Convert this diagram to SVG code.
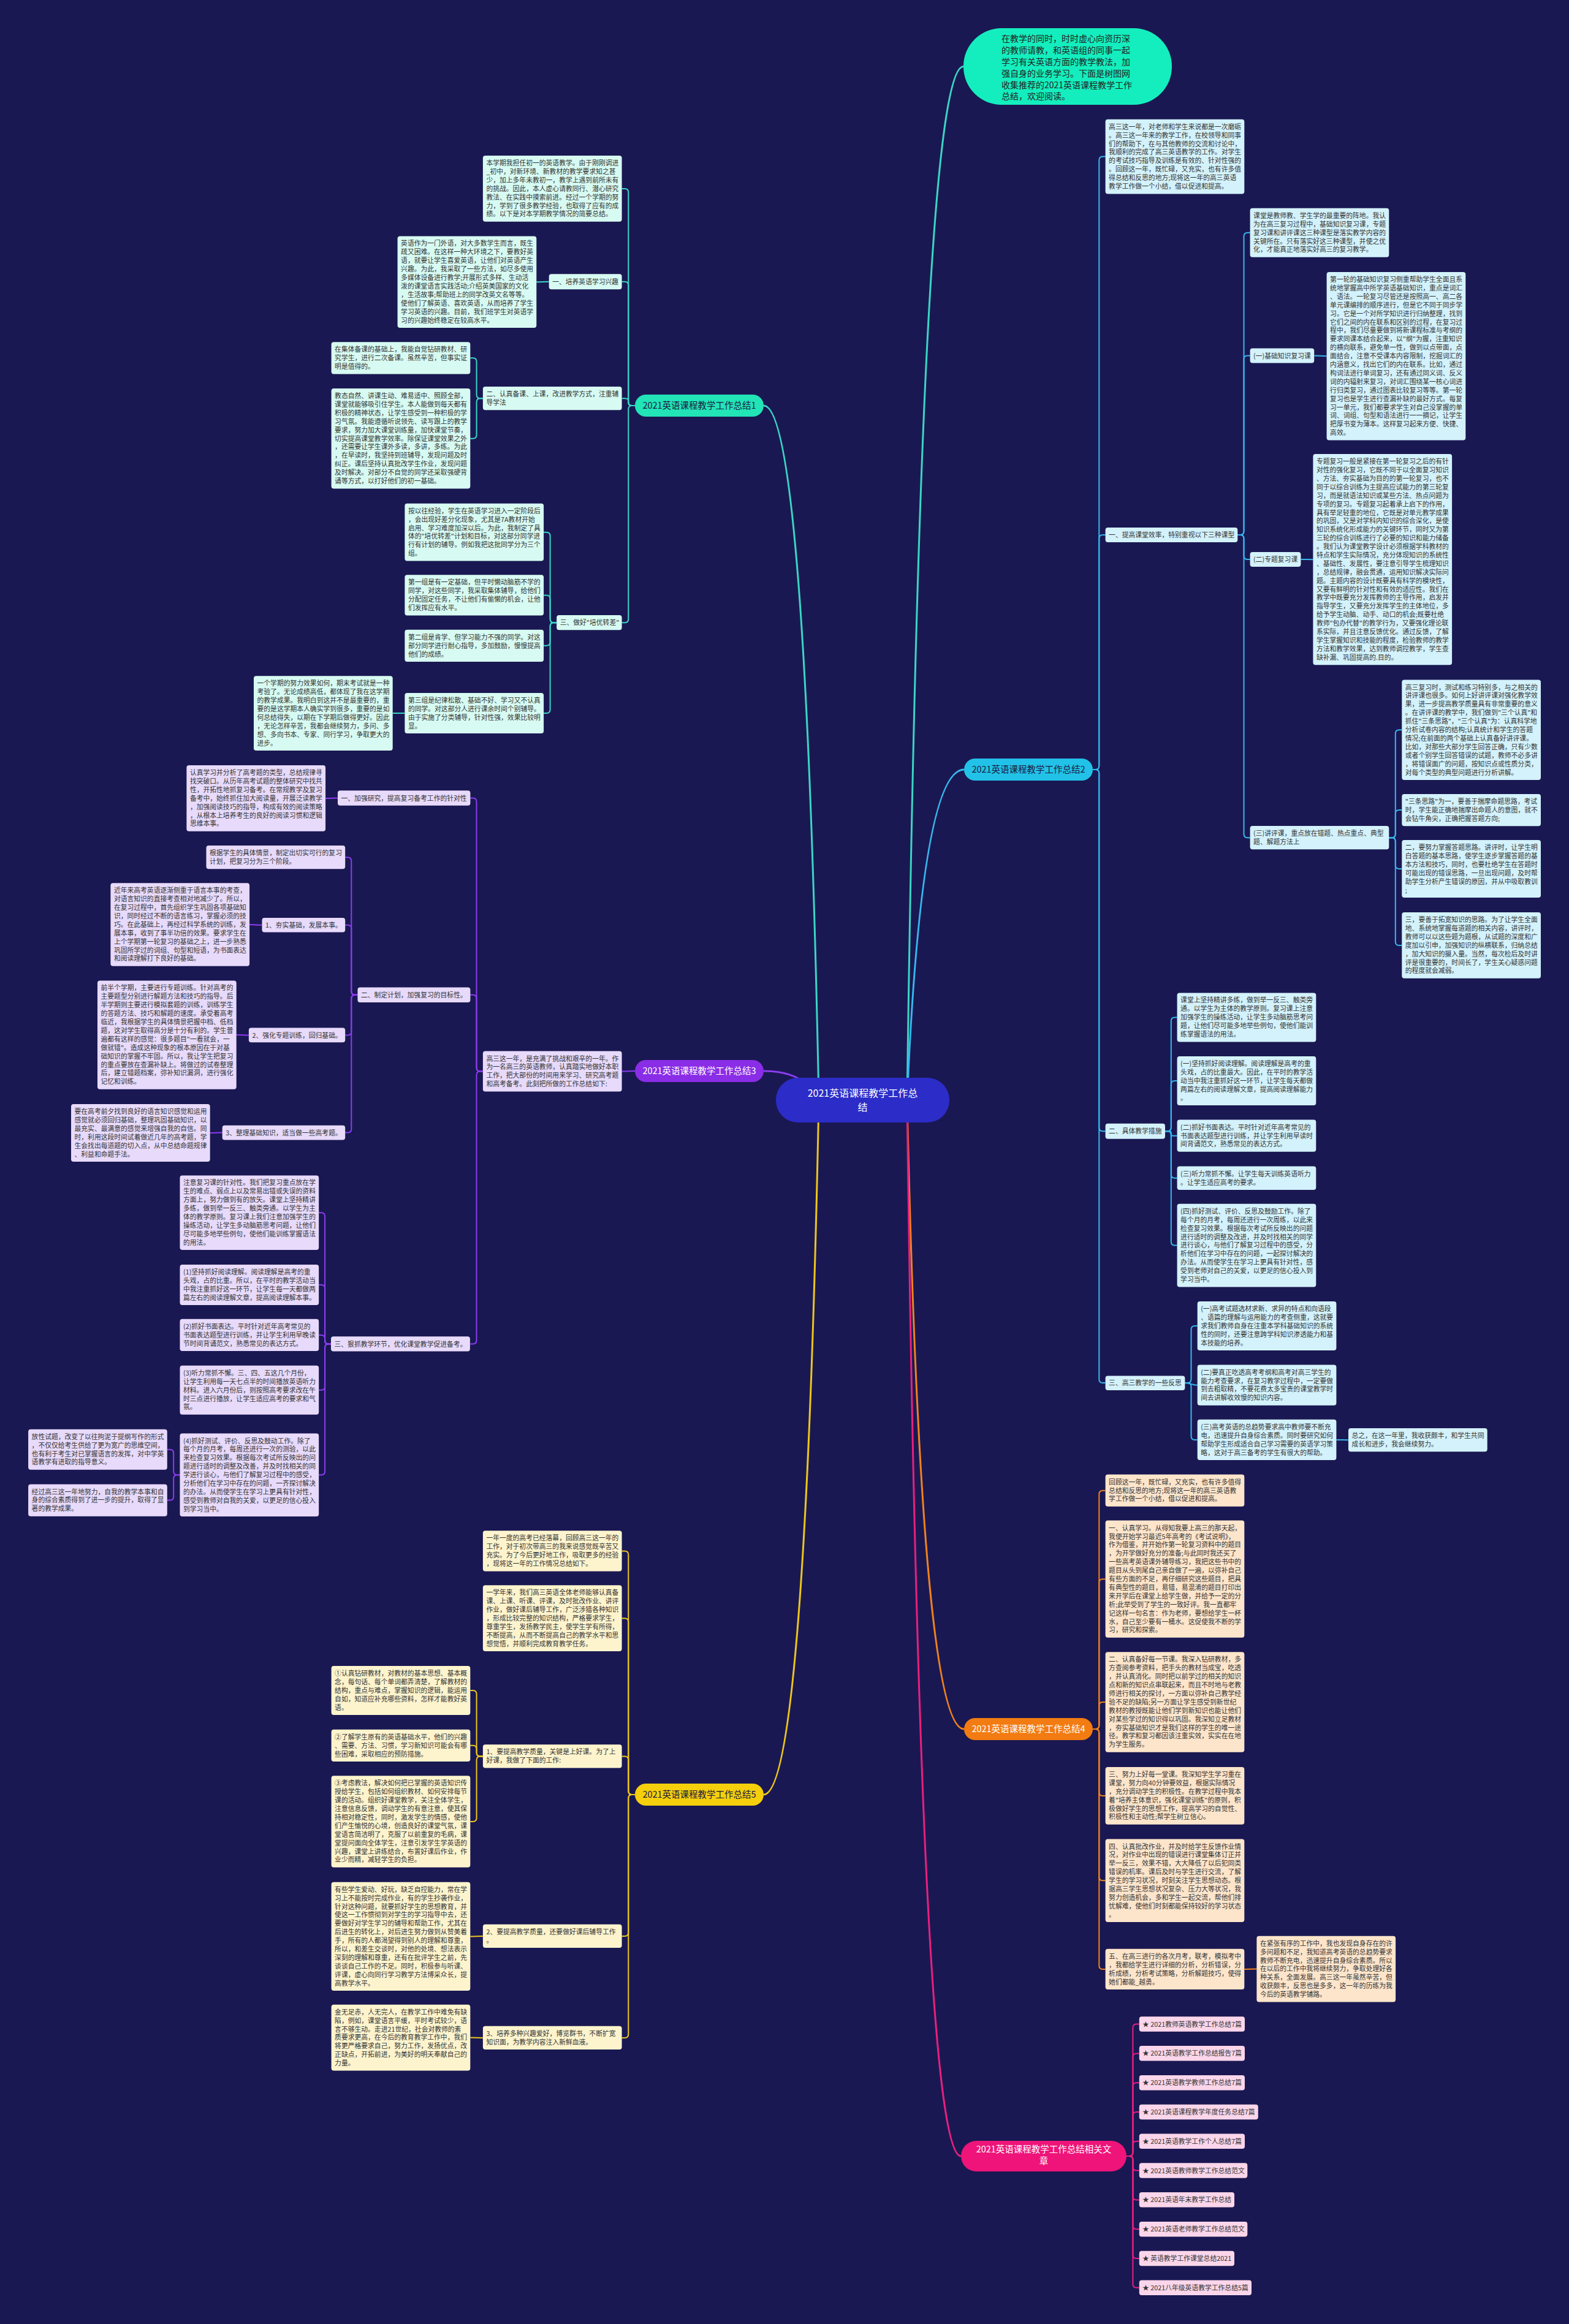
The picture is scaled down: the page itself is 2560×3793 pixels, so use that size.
<svg xmlns="http://www.w3.org/2000/svg" width="2560" height="3793" viewBox="0 0 2560 3793">
<style>
.t{font-family:"Noto Sans CJK SC","Noto Sans",sans-serif;font-size:10.8px;fill:#333}
.nt{font-family:"Noto Sans CJK SC","Noto Sans",sans-serif;font-size:14.5px;text-anchor:middle}
.b1 rect{fill:#d7fbf2}.b2 rect{fill:#d3f2fb}.b3 rect{fill:#e7dafb}.b4 rect{fill:#fde5cb}.b5 rect{fill:#fdf4cd}.b6 rect{fill:#fbd6ea}
.c{fill:none;stroke-width:2}
.c1{stroke:#3ad6c4}.c2{stroke:#36b7ee}.c3{stroke:#8b3cf0}.c4{stroke:#f0821e}.c5{stroke:#ecc61c}.c6{stroke:#e8207e}
.cm{fill:none;stroke-width:3}
</style>
<rect x="0" y="0" width="2560" height="3793" fill="#1a1852"/>
<g id="connectors">
<path class="cm c1" d="M1480 1795Q1503 108.5 1572 108.5"/>
<path class="cm c2" d="M1480 1795Q1503 1256 1573 1256"/>
<path class="cm c4" d="M1480 1795Q1503 2822 1573 2822"/>
<path class="cm c6" d="M1480 1795Q1502 3519 1568 3519"/>
<path class="cm c1" d="M1336 1795Q1313.5 662 1246 662"/>
<path class="cm c3" d="M1336 1795Q1313.5 1748 1246 1748"/>
<path class="cm c5" d="M1336 1795Q1313.5 2929 1246 2929"/>
<!-- branch 1 -->
<path class="c c1" d="M1036 662H1031.3Q1025.3 662 1025.3 656V313.9Q1025.3 307.9 1019.3 307.9H1014.6"/>
<path class="c c1" d="M1036 662H1031.3Q1025.3 662 1025.3 656V465.7Q1025.3 459.7 1019.3 459.7H1014.6"/>
<path class="c c1" d="M1036 662H1030.3Q1025.3 662 1025.3 657V655.2Q1025.3 650.2 1020.3 650.2H1014.6"/>
<path class="c c1" d="M1036 662H1031.3Q1025.3 662 1025.3 668V1010.2Q1025.3 1016.2 1019.3 1016.2H1014.6"/>
<path class="c c1" d="M895.7 459.7C885.5 459.7 885.5 460.2 875.3 460.2"/>
<path class="c c1" d="M787.9 650.2H783.6Q777.6 650.2 777.6 644.2V590.3Q777.6 584.3 771.6 584.3H767.3"/>
<path class="c c1" d="M787.9 650.2H783.6Q777.6 650.2 777.6 656.2V709.7Q777.6 715.7 771.6 715.7H767.3"/>
<path class="c c1" d="M908.2 1016.2H903.6Q897.6 1016.2 897.6 1010.2V874.7Q897.6 868.7 891.6 868.7H887.1"/>
<path class="c c1" d="M908.2 1016.2H903.6Q897.6 1016.2 897.6 1010.2V977.4Q897.6 971.4 891.6 971.4H887.1"/>
<path class="c c1" d="M908.2 1016.2H903.6Q897.6 1016.2 897.6 1022.2V1047.8Q897.6 1053.8 891.6 1053.8H887.1"/>
<path class="c c1" d="M908.2 1016.2H903.6Q897.6 1016.2 897.6 1022.2V1158Q897.6 1164 891.6 1164H887.1"/>
<path class="c c1" d="M660.4 1164H640.7"/>
<!-- branch 2 -->
<path class="c c2" d="M1783 1256H1787.3Q1793.3 1256 1793.3 1250V261.6Q1793.3 255.6 1799.3 255.6H1803.6"/>
<path class="c c2" d="M1783 1256H1787.3Q1793.3 1256 1793.3 1250V878.9Q1793.3 872.9 1799.3 872.9H1803.6"/>
<path class="c c2" d="M1783 1256H1787.3Q1793.3 1256 1793.3 1262V1840.2Q1793.3 1846.2 1799.3 1846.2H1803.6"/>
<path class="c c2" d="M1783 1256H1787.3Q1793.3 1256 1793.3 1262V2251Q1793.3 2257 1799.3 2257H1803.6"/>
<path class="c c2" d="M2019.3 872.9H2023.5Q2029.5 872.9 2029.5 866.9V385.8Q2029.5 379.8 2035.5 379.8H2039.6"/>
<path class="c c2" d="M2019.3 872.9H2023.5Q2029.5 872.9 2029.5 866.9V586.4Q2029.5 580.4 2035.5 580.4H2039.6"/>
<path class="c c2" d="M2019.3 872.9H2023.5Q2029.5 872.9 2029.5 878.9V907Q2029.5 913 2035.5 913H2039.6"/>
<path class="c c2" d="M2019.3 872.9H2023.5Q2029.5 872.9 2029.5 878.9V1361.2Q2029.5 1367.2 2035.5 1367.2H2039.6"/>
<path class="c c2" d="M2144.2 580.4C2154.4 580.4 2154.4 581.3 2164.6 581.3"/>
<path class="c c2" d="M2122.4 913C2132.4 913 2132.4 913.2 2142.4 913.2"/>
<path class="c c2" d="M2266.3 1367.2H2270.8Q2276.8 1367.2 2276.8 1361.2V1197.2Q2276.8 1191.2 2282.8 1191.2H2287.3"/>
<path class="c c2" d="M2266.3 1367.2H2270.8Q2276.8 1367.2 2276.8 1361.2V1328.1Q2276.8 1322.1 2282.8 1322.1H2287.3"/>
<path class="c c2" d="M2266.3 1367.2H2270.8Q2276.8 1367.2 2276.8 1373.2V1412Q2276.8 1418 2282.8 1418H2287.3"/>
<path class="c c2" d="M2266.3 1367.2H2270.8Q2276.8 1367.2 2276.8 1373.2V1536.9Q2276.8 1542.9 2282.8 1542.9H2287.3"/>
<path class="c c2" d="M1901 1846.2H1904.8Q1910.8 1846.2 1910.8 1840.2V1666.4Q1910.8 1660.4 1916.8 1660.4H1920.6"/>
<path class="c c2" d="M1901 1846.2H1904.8Q1910.8 1846.2 1910.8 1840.2V1770Q1910.8 1764 1916.8 1764H1920.6"/>
<path class="c c2" d="M1901 1846.2H1907.8Q1910.8 1846.2 1910.8 1849.2V1850.7Q1910.8 1853.7 1913.8 1853.7H1920.6"/>
<path class="c c2" d="M1901 1846.2H1904.8Q1910.8 1846.2 1910.8 1852.2V1916.8Q1910.8 1922.8 1916.8 1922.8H1920.6"/>
<path class="c c2" d="M1901 1846.2H1904.8Q1910.8 1846.2 1910.8 1852.2V2026.6Q1910.8 2032.6 1916.8 2032.6H1920.6"/>
<path class="c c2" d="M1933.4 2257H1937.5Q1943.5 2257 1943.5 2251V2170Q1943.5 2164 1949.5 2164H1953.7"/>
<path class="c c2" d="M1933.4 2257C1943.5 2257 1943.5 2260.7 1953.7 2260.7"/>
<path class="c c2" d="M1933.4 2257H1937.5Q1943.5 2257 1943.5 2263V2343.9Q1943.5 2349.9 1949.5 2349.9H1953.7"/>
<path class="c c2" d="M2180.4 2349.9C2190.2 2349.9 2190.2 2350.2 2200 2350.2"/>
<!-- branch 3 -->
<path class="c c3" d="M1036 1748C1025.3 1748 1025.3 1748.5 1014.6 1748.5"/>
<path class="c c3" d="M787.9 1748.5H783.5Q777.5 1748.5 777.5 1742.5V1308.5Q777.5 1302.5 771.5 1302.5H767.2"/>
<path class="c c3" d="M787.9 1748.5H783.5Q777.5 1748.5 777.5 1742.5V1629.7Q777.5 1623.7 771.5 1623.7H767.2"/>
<path class="c c3" d="M787.9 1748.5H783.5Q777.5 1748.5 777.5 1754.5V2187.4Q777.5 2193.4 771.5 2193.4H767.2"/>
<path class="c c3" d="M551 1302.5C541 1302.5 541 1302.9 531.1 1302.9"/>
<path class="c c3" d="M583.5 1623.7H579.3Q573.3 1623.7 573.3 1617.7V1405.2Q573.3 1399.2 567.3 1399.2H563.2"/>
<path class="c c3" d="M583.5 1623.7H579.3Q573.3 1623.7 573.3 1617.7V1515.8Q573.3 1509.8 567.3 1509.8H563.2"/>
<path class="c c3" d="M583.5 1623.7H579.3Q573.3 1623.7 573.3 1629.7V1683.4Q573.3 1689.4 567.3 1689.4H563.2"/>
<path class="c c3" d="M583.5 1623.7H579.3Q573.3 1623.7 573.3 1629.7V1842.5Q573.3 1848.5 567.3 1848.5H563.2"/>
<path class="c c3" d="M427.5 1509.8C417.3 1509.8 417.3 1509 407.1 1509"/>
<path class="c c3" d="M405.9 1689.4C395.8 1689.4 395.8 1689 385.7 1689"/>
<path class="c c3" d="M362.7 1848.5C352.7 1848.5 352.7 1849 342.7 1849"/>
<path class="c c3" d="M540 2193.4H536.1Q530.1 2193.4 530.1 2187.4V1985.3Q530.1 1979.3 524.1 1979.3H520.2"/>
<path class="c c3" d="M540 2193.4H536.1Q530.1 2193.4 530.1 2187.4V2103Q530.1 2097 524.1 2097H520.2"/>
<path class="c c3" d="M540 2193.4H536.1Q530.1 2193.4 530.1 2187.4V2184.9Q530.1 2178.9 524.1 2178.9H520.2"/>
<path class="c c3" d="M540 2193.4H536.1Q530.1 2193.4 530.1 2199.4V2262.8Q530.1 2268.8 524.1 2268.8H520.2"/>
<path class="c c3" d="M540 2193.4H536.1Q530.1 2193.4 530.1 2199.4V2401.3Q530.1 2407.3 524.1 2407.3H520.2"/>
<path class="c c3" d="M293.5 2407.3H289.2Q283.2 2407.3 283.2 2401.3V2371.8Q283.2 2365.8 277.2 2365.8H272.8"/>
<path class="c c3" d="M293.5 2407.3H289.2Q283.2 2407.3 283.2 2413.3V2442.6Q283.2 2448.6 277.2 2448.6H272.8"/>
<!-- branch 4 -->
<path class="c c4" d="M1783 2822H1787.3Q1793.3 2822 1793.3 2816V2438.7Q1793.3 2432.7 1799.3 2432.7H1803.6"/>
<path class="c c4" d="M1783 2822H1787.3Q1793.3 2822 1793.3 2816V2583.2Q1793.3 2577.2 1799.3 2577.2H1803.6"/>
<path class="c c4" d="M1783 2822H1787.3Q1793.3 2822 1793.3 2816V2784Q1793.3 2778 1799.3 2778H1803.6"/>
<path class="c c4" d="M1783 2822H1787.3Q1793.3 2822 1793.3 2828V2924.9Q1793.3 2930.9 1799.3 2930.9H1803.6"/>
<path class="c c4" d="M1783 2822H1787.3Q1793.3 2822 1793.3 2828V3063.3Q1793.3 3069.3 1799.3 3069.3H1803.6"/>
<path class="c c4" d="M1783 2822H1787.3Q1793.3 2822 1793.3 2828V3207.9Q1793.3 3213.9 1799.3 3213.9H1803.6"/>
<path class="c c4" d="M2030.3 3213.9C2040.3 3213.9 2040.3 3213.6 2050.4 3213.6"/>
<!-- branch 5 -->
<path class="c c5" d="M1036 2929H1031.3Q1025.3 2929 1025.3 2923V2537.4Q1025.3 2531.4 1019.3 2531.4H1014.6"/>
<path class="c c5" d="M1036 2929H1031.3Q1025.3 2929 1025.3 2923V2647.2Q1025.3 2641.2 1019.3 2641.2H1014.6"/>
<path class="c c5" d="M1036 2929H1031.3Q1025.3 2929 1025.3 2923V2872.5Q1025.3 2866.5 1019.3 2866.5H1014.6"/>
<path class="c c5" d="M1036 2929H1031.3Q1025.3 2929 1025.3 2935V3153.9Q1025.3 3159.9 1019.3 3159.9H1014.6"/>
<path class="c c5" d="M1036 2929H1031.3Q1025.3 2929 1025.3 2935V3319.9Q1025.3 3325.9 1019.3 3325.9H1014.6"/>
<path class="c c5" d="M787.9 2866.5H783.6Q777.6 2866.5 777.6 2860.5V2765Q777.6 2759 771.6 2759H767.3"/>
<path class="c c5" d="M787.9 2866.5H783.6Q777.6 2866.5 777.6 2860.5V2854.8Q777.6 2848.8 771.6 2848.8H767.3"/>
<path class="c c5" d="M787.9 2866.5H783.6Q777.6 2866.5 777.6 2872.5V2967Q777.6 2973 771.6 2973H767.3"/>
<path class="c c5" d="M787.9 3159.9C777.6 3159.9 777.6 3160.4 767.3 3160.4"/>
<path class="c c5" d="M787.9 3325.9C777.6 3325.9 777.6 3325.6 767.3 3325.6"/>
<!-- branch 6 -->
<path class="c c6" d="M1838 3519H1842.4Q1848.4 3519 1848.4 3513V3309.6Q1848.4 3303.6 1854.4 3303.6H1858.8"/>
<path class="c c6" d="M1838 3519H1842.4Q1848.4 3519 1848.4 3513V3357.4Q1848.4 3351.4 1854.4 3351.4H1858.8"/>
<path class="c c6" d="M1838 3519H1842.4Q1848.4 3519 1848.4 3513V3405.2Q1848.4 3399.2 1854.4 3399.2H1858.8"/>
<path class="c c6" d="M1838 3519H1842.4Q1848.4 3519 1848.4 3513V3453Q1848.4 3447 1854.4 3447H1858.8"/>
<path class="c c6" d="M1838 3519H1842.4Q1848.4 3519 1848.4 3513V3500.8Q1848.4 3494.8 1854.4 3494.8H1858.8"/>
<path class="c c6" d="M1838 3519H1842.4Q1848.4 3519 1848.4 3525V3536.6Q1848.4 3542.6 1854.4 3542.6H1858.8"/>
<path class="c c6" d="M1838 3519H1842.4Q1848.4 3519 1848.4 3525V3584.4Q1848.4 3590.4 1854.4 3590.4H1858.8"/>
<path class="c c6" d="M1838 3519H1842.4Q1848.4 3519 1848.4 3525V3632.2Q1848.4 3638.2 1854.4 3638.2H1858.8"/>
<path class="c c6" d="M1838 3519H1842.4Q1848.4 3519 1848.4 3525V3680Q1848.4 3686 1854.4 3686H1858.8"/>
<path class="c c6" d="M1838 3519H1842.4Q1848.4 3519 1848.4 3525V3727.8Q1848.4 3733.8 1854.4 3733.8H1858.8"/>
</g>

<!-- center & main nodes -->
<g id="center"><rect x="1266" y="1759" width="283" height="73" rx="36" fill="#2c2cc8"/>
<text class="nt" x="1407.5" y="1790" style="font-size:16px;fill:#fff"><tspan x="1407.5">2021英语课程教学工作总</tspan><tspan x="1407.5" dy="23">结</tspan></text></g>
<g id="intro"><rect x="1572" y="46" width="340" height="125" rx="62" fill="#14eebe"/>
<text style="font-family:'Noto Sans CJK SC',sans-serif;font-size:14px;fill:#222" x="1634" y="68.3"><tspan x="1634">在教学的同时，时时虚心向资历深</tspan><tspan x="1634" dy="18.8">的教师请教，和英语组的同事一起</tspan><tspan x="1634" dy="18.8">学习有关英语方面的教学教法，加</tspan><tspan x="1634" dy="18.8">强自身的业务学习。下面是树图网</tspan><tspan x="1634" dy="18.8">收集推荐的2021英语课程教学工作</tspan><tspan x="1634" dy="18.8">总结，欢迎阅读。</tspan></text></g>
<g id="branch1"><rect x="1036" y="644" width="210" height="36" rx="18" fill="#22e4b6"/><text class="nt" x="1141" y="667" fill="#1a1a40">2021英语课程教学工作总结1</text></g>
<g id="branch2"><rect x="1573" y="1238" width="210" height="36" rx="18" fill="#22c2e8"/><text class="nt" x="1678" y="1261" fill="#1a1a40">2021英语课程教学工作总结2</text></g>
<g id="branch3"><rect x="1036" y="1730" width="210" height="36" rx="18" fill="#8a2de6"/><text class="nt" x="1141" y="1753" fill="#fff">2021英语课程教学工作总结3</text></g>
<g id="branch4"><rect x="1573" y="2804" width="210" height="36" rx="18" fill="#f27c12"/><text class="nt" x="1678" y="2827" fill="#fff">2021英语课程教学工作总结4</text></g>
<g id="branch5"><rect x="1036" y="2911" width="210" height="36" rx="18" fill="#f5cf0c"/><text class="nt" x="1141" y="2934" fill="#1a1a40">2021英语课程教学工作总结5</text></g>
<g id="branch6"><rect x="1568" y="3494" width="270" height="50" rx="25" fill="#ee1479"/><text class="nt" x="1703" y="3513" fill="#fff"><tspan x="1703">2021英语课程教学工作总结相关文</tspan><tspan x="1703" dy="19">章</tspan></text></g>

<!-- branch 1 nodes -->
<g class="b1">
<g id="n1_0"><rect x="787.9" y="254" width="226.7" height="107.8" rx="4"/><text class="t" x="793.4" y="270"><tspan x="793.4">本学期我担任初一的英语教学。由于刚刚调进</tspan><tspan x="793.4" dy="13.9">_初中，对新环境、新教材的教学要求知之甚</tspan><tspan x="793.4" dy="13.9">少，加上多年未教初一，教学上遇到前所未有</tspan><tspan x="793.4" dy="13.9">的挑战。因此，本人虚心请教同行、潜心研究</tspan><tspan x="793.4" dy="13.9">教法、在实践中摸索前进。经过一个学期的努</tspan><tspan x="793.4" dy="13.9">力，学到了很多教学经验，也取得了应有的成</tspan><tspan x="793.4" dy="13.9">绩。以下是对本学期教学情况的简要总结。</tspan></text></g>
<g id="n1_L1"><rect x="895.7" y="447.2" width="118.9" height="25" rx="4"/><text class="t" x="901.2" y="463.6">一、培养英语学习兴趣</text></g>
<g id="n1_L1a"><rect x="648.6" y="385.4" width="226.7" height="149.5" rx="4"/><text class="t" x="654.1" y="401.4"><tspan x="654.1">英语作为一门外语，对大多数学生而言，既生</tspan><tspan x="654.1" dy="13.9">疏又困难。在这样一种大环境之下，要教好英</tspan><tspan x="654.1" dy="13.9">语，就要让学生喜爱英语，让他们对英语产生</tspan><tspan x="654.1" dy="13.9">兴趣。为此，我采取了一些方法，如尽多使用</tspan><tspan x="654.1" dy="13.9">多媒体设备进行教学;开展形式多样、生动活</tspan><tspan x="654.1" dy="13.9">泼的课堂语言实践活动;介绍英美国家的文化</tspan><tspan x="654.1" dy="13.9">，生活故事;帮助班上的同学改英文名等等。</tspan><tspan x="654.1" dy="13.9">使他们了解英语、喜欢英语，从而培养了学生</tspan><tspan x="654.1" dy="13.9">学习英语的兴趣。目前，我们班学生对英语学</tspan><tspan x="654.1" dy="13.9">习的兴趣始终稳定在较高水平。</tspan></text></g>
<g id="n1_L2"><rect x="787.9" y="631" width="226.7" height="38.3" rx="4"/><text class="t" x="793.4" y="647"><tspan x="793.4">二、认真备课、上课，改进教学方式，注重辅</tspan><tspan x="793.4" dy="13.9">导学法</tspan></text></g>
<g id="n1_L2a"><rect x="540.6" y="558.2" width="226.7" height="52.2" rx="4"/><text class="t" x="546.1" y="574.2"><tspan x="546.1">在集体备课的基础上，我能自觉钻研教材、研</tspan><tspan x="546.1" dy="13.9">究学生，进行二次备课。虽然辛苦，但事实证</tspan><tspan x="546.1" dy="13.9">明是值得的。</tspan></text></g>
<g id="n1_L2b"><rect x="540.6" y="634" width="226.7" height="163.4" rx="4"/><text class="t" x="546.1" y="650"><tspan x="546.1">教态自然、讲课生动、难易适中、照顾全部，</tspan><tspan x="546.1" dy="13.9">课堂就能够吸引住学生。本人能做到每天都有</tspan><tspan x="546.1" dy="13.9">积极的精神状态，让学生感受到一种积极的学</tspan><tspan x="546.1" dy="13.9">习气氛。我能遵循听说领先、读写跟上的教学</tspan><tspan x="546.1" dy="13.9">要求，努力加大课堂训练量，加快课堂节奏，</tspan><tspan x="546.1" dy="13.9">切实提高课堂教学效率。除保证课堂效果之外</tspan><tspan x="546.1" dy="13.9">，还需要让学生课外多读，多讲，多练。为此</tspan><tspan x="546.1" dy="13.9">，在早读时，我坚持到班辅导，发现问题及时</tspan><tspan x="546.1" dy="13.9">纠正。课后坚持认真批改学生作业，发现问题</tspan><tspan x="546.1" dy="13.9">及时解决。对部分不自觉的同学还采取强硬背</tspan><tspan x="546.1" dy="13.9">诵等方式，以打好他们的初一基础。</tspan></text></g>
<g id="n1_L3"><rect x="908.2" y="1004" width="106.4" height="24.3" rx="4"/><text class="t" x="913.7" y="1020.3">三、做好"培优转差"</text></g>
<g id="n1_L3a"><rect x="660.4" y="821.7" width="226.7" height="93.9" rx="4"/><text class="t" x="665.9" y="837.7"><tspan x="665.9">按以往经验，学生在英语学习进入一定阶段后</tspan><tspan x="665.9" dy="13.9">，会出现好差分化现象，尤其是7A教材开始</tspan><tspan x="665.9" dy="13.9">启用、学习难度加深以后。为此，我制定了具</tspan><tspan x="665.9" dy="13.9">体的"培优转差"计划和目标，对这部分同学进</tspan><tspan x="665.9" dy="13.9">行有计划的辅导。例如我把这批同学分为三个</tspan><tspan x="665.9" dy="13.9">组。</tspan></text></g>
<g id="n1_L3b"><rect x="660.4" y="938.3" width="226.7" height="66.1" rx="4"/><text class="t" x="665.9" y="954.3"><tspan x="665.9">第一组是有一定基础，但平时懒动脑筋不学的</tspan><tspan x="665.9" dy="13.9">同学，对这些同学，我采取集体辅导，给他们</tspan><tspan x="665.9" dy="13.9">分配固定任务，不让他们有偷懒的机会，让他</tspan><tspan x="665.9" dy="13.9">们发挥应有水平。</tspan></text></g>
<g id="n1_L3c"><rect x="660.4" y="1027.7" width="226.7" height="52.2" rx="4"/><text class="t" x="665.9" y="1043.7"><tspan x="665.9">第二组是肯学、但学习能力不强的同学。对这</tspan><tspan x="665.9" dy="13.9">部分同学进行耐心指导，多加鼓励，慢慢提高</tspan><tspan x="665.9" dy="13.9">他们的成绩。</tspan></text></g>
<g id="n1_L3d"><rect x="660.4" y="1131" width="226.7" height="66.1" rx="4"/><text class="t" x="665.9" y="1147"><tspan x="665.9">第三组是纪律松散、基础不好、学习又不认真</tspan><tspan x="665.9" dy="13.9">的同学。对这部分人进行课余时间个别辅导。</tspan><tspan x="665.9" dy="13.9">由于实施了分类辅导，针对性强，效果比较明</tspan><tspan x="665.9" dy="13.9">显。</tspan></text></g>
<g id="n1_L3d1"><rect x="414" y="1103.3" width="226.7" height="121.7" rx="4"/><text class="t" x="419.5" y="1119.3"><tspan x="419.5">一个学期的努力效果如何，期末考试就是一种</tspan><tspan x="419.5" dy="13.9">考验了。无论成绩高低，都体现了我在这学期</tspan><tspan x="419.5" dy="13.9">的教学成果。我明白到这并不是最重要的，重</tspan><tspan x="419.5" dy="13.9">要的是这学期本人确实学到很多，重要的是如</tspan><tspan x="419.5" dy="13.9">何总结得失，以期在下学期后做得更好。因此</tspan><tspan x="419.5" dy="13.9">，无论怎样辛苦，我都会继续努力，多问、多</tspan><tspan x="419.5" dy="13.9">想、多向书本、专家、同行学习，争取更大的</tspan><tspan x="419.5" dy="13.9">进步。</tspan></text></g>
</g>

<!-- branch 2 nodes -->
<g class="b2">
<g id="n2_0"><rect x="1803.6" y="194.7" width="226.7" height="121.7" rx="4"/><text class="t" x="1809.1" y="210.7"><tspan x="1809.1">高三这一年，对老师和学生来说都是一次磨砺</tspan><tspan x="1809.1" dy="13.9">。高三这一年来的教学工作，在校领导和同事</tspan><tspan x="1809.1" dy="13.9">们的帮助下，在与其他教师的交流和讨论中，</tspan><tspan x="1809.1" dy="13.9">我顺利的完成了高三英语教学的工作。对学生</tspan><tspan x="1809.1" dy="13.9">的考试技巧指导及训练是有效的、针对性强的</tspan><tspan x="1809.1" dy="13.9">。回顾这一年，既忙碌，又充实，也有许多值</tspan><tspan x="1809.1" dy="13.9">得总结和反思的地方;现将这一年的高三英语</tspan><tspan x="1809.1" dy="13.9">教学工作做一个小结，借以促进和提高。</tspan></text></g>
<g id="n2_L1"><rect x="1803.6" y="860.9" width="215.7" height="24" rx="4"/><text class="t" x="1809.1" y="877">一、提高课堂效率，特别重视以下三种课型</text></g>
<g id="n2_L1a"><rect x="2039.6" y="339.8" width="226.7" height="80" rx="4"/><text class="t" x="2045.1" y="355.8"><tspan x="2045.1">课堂是教师教、学生学的最重要的阵地。我认</tspan><tspan x="2045.1" dy="13.9">为在高三复习过程中，基础知识复习课，专题</tspan><tspan x="2045.1" dy="13.9">复习课和讲评课这三种课型是落实教学内容的</tspan><tspan x="2045.1" dy="13.9">关键所在。只有落实好这三种课型，并使之优</tspan><tspan x="2045.1" dy="13.9">化，才能真正地落实好高三的复习教学。</tspan></text></g>
<g id="n2_L1b"><rect x="2039.6" y="568.4" width="104.6" height="24" rx="4"/><text class="t" x="2045.1" y="584.5">(一)基础知识复习课</text></g>
<g id="n2_L1b1"><rect x="2164.6" y="444" width="226.7" height="274.6" rx="4"/><text class="t" x="2170.1" y="460"><tspan x="2170.1">第一轮的基础知识复习侧重帮助学生全面且系</tspan><tspan x="2170.1" dy="13.9">统地掌握高中所学英语基础知识，重点是词汇</tspan><tspan x="2170.1" dy="13.9">、语法。一轮复习尽管还是按照高一、高二各</tspan><tspan x="2170.1" dy="13.9">单元课编排的顺序进行，但是它不同于同步学</tspan><tspan x="2170.1" dy="13.9">习。它是一个对所学知识进行归纳整理，找到</tspan><tspan x="2170.1" dy="13.9">它们之间的内在联系和区别的过程，在复习过</tspan><tspan x="2170.1" dy="13.9">程中，我们尽量要做到将新课程标准与考纲的</tspan><tspan x="2170.1" dy="13.9">要求同课本结合起来，以"纲"为握，注重知识</tspan><tspan x="2170.1" dy="13.9">的横向联系，避免单一性，做到以点带面，点</tspan><tspan x="2170.1" dy="13.9">面结合，注意不受课本内容限制，挖掘词汇的</tspan><tspan x="2170.1" dy="13.9">内涵意义，找出它们的内在联系。比如，通过</tspan><tspan x="2170.1" dy="13.9">构词法进行单词复习，还有通过同义词、反义</tspan><tspan x="2170.1" dy="13.9">词的内辐射来复习，对词汇围绕某一核心词进</tspan><tspan x="2170.1" dy="13.9">行归类复习，通过图表比较复习等等。第一轮</tspan><tspan x="2170.1" dy="13.9">复习也是学生进行查漏补缺的最好方式。每复</tspan><tspan x="2170.1" dy="13.9">习一单元，我们都要求学生对自己没掌握的单</tspan><tspan x="2170.1" dy="13.9">词、词组、句型和语法进行一一摘记，让学生</tspan><tspan x="2170.1" dy="13.9">把厚书变为薄本。这样复习起来方便、快捷、</tspan><tspan x="2170.1" dy="13.9">高效。</tspan></text></g>
<g id="n2_L1c"><rect x="2039.6" y="901" width="82.8" height="24" rx="4"/><text class="t" x="2045.1" y="917.1">(二)专题复习课</text></g>
<g id="n2_L1c1"><rect x="2142.4" y="741.1" width="226.7" height="344.1" rx="4"/><text class="t" x="2147.9" y="757.1"><tspan x="2147.9">专题复习一般是紧接在第一轮复习之后的有针</tspan><tspan x="2147.9" dy="13.9">对性的强化复习，它既不同于以全面复习知识</tspan><tspan x="2147.9" dy="13.9">、方法、夯实基础为目的的第一轮复习，也不</tspan><tspan x="2147.9" dy="13.9">同于以综合训练为主提高应试能力的第三轮复</tspan><tspan x="2147.9" dy="13.9">习，而是就语法知识或某些方法、热点问题为</tspan><tspan x="2147.9" dy="13.9">专项的复习。专题复习起着承上启下的作用，</tspan><tspan x="2147.9" dy="13.9">具有举足轻重的地位，它既是对单元教学成果</tspan><tspan x="2147.9" dy="13.9">的巩固，又是对学科内知识的综合深化，是使</tspan><tspan x="2147.9" dy="13.9">知识系统化形成能力的关键环节，同时又为第</tspan><tspan x="2147.9" dy="13.9">三轮的综合训练进行了必要的知识和能力储备</tspan><tspan x="2147.9" dy="13.9">。我们认为课堂教学设计必须根据学科教材的</tspan><tspan x="2147.9" dy="13.9">特点和学生实际情况，充分体现知识的系统性</tspan><tspan x="2147.9" dy="13.9">、基础性、发展性，要注意引导学生梳理知识</tspan><tspan x="2147.9" dy="13.9">，总结规律，融会贯通，运用知识解决实际问</tspan><tspan x="2147.9" dy="13.9">题。主题内容的设计既要具有科学的模块性，</tspan><tspan x="2147.9" dy="13.9">又要有鲜明的针对性和有效的适应性。我们在</tspan><tspan x="2147.9" dy="13.9">教学中既要充分发挥教师的主导作用，启发并</tspan><tspan x="2147.9" dy="13.9">指导学生，又要充分发挥学生的主体地位，多</tspan><tspan x="2147.9" dy="13.9">给予学生动脑、动手、动口的机会;既要杜绝</tspan><tspan x="2147.9" dy="13.9">教师"包办代替"的教学行为，又要强化理论联</tspan><tspan x="2147.9" dy="13.9">系实际，并且注意反馈优化。通过反馈，了解</tspan><tspan x="2147.9" dy="13.9">学生掌握知识和技能的程度，检验教师的教学</tspan><tspan x="2147.9" dy="13.9">方法和教学效果，达到教师调控教学，学生查</tspan><tspan x="2147.9" dy="13.9">缺补漏、巩固提高的.目的。</tspan></text></g>
<g id="n2_L1d"><rect x="2039.6" y="1348" width="226.7" height="38.3" rx="4"/><text class="t" x="2045.1" y="1364"><tspan x="2045.1">(三)讲评课，重点放在错题、热点重点、典型</tspan><tspan x="2045.1" dy="13.9">题、解题方法上</tspan></text></g>
<g id="n2_L1d1"><rect x="2287.3" y="1109.5" width="226.7" height="163.4" rx="4"/><text class="t" x="2292.8" y="1125.5"><tspan x="2292.8">高三复习时，测试和练习特别多，与之相关的</tspan><tspan x="2292.8" dy="13.9">讲评课也很多。如何上好讲评课对强化教学效</tspan><tspan x="2292.8" dy="13.9">果，进一步提高教学质量具有非常重要的意义</tspan><tspan x="2292.8" dy="13.9">。在讲评课的教学中，我们做到"三个认真"和</tspan><tspan x="2292.8" dy="13.9">抓住"三条思路"，"三个认真"为：认真科学地</tspan><tspan x="2292.8" dy="13.9">分析试卷内容的结构;认真统计和学生的答题</tspan><tspan x="2292.8" dy="13.9">情况;在前面的两个基础上认真备好讲评课。</tspan><tspan x="2292.8" dy="13.9">比如，对那些大部分学生回答正确，只有少数</tspan><tspan x="2292.8" dy="13.9">或者个别学生回答错误的试题，教师不必多讲</tspan><tspan x="2292.8" dy="13.9">，将错误面广的问题，按知识点或性质分类，</tspan><tspan x="2292.8" dy="13.9">对每个类型的典型问题进行分析讲解。</tspan></text></g>
<g id="n2_L1d2"><rect x="2287.3" y="1296" width="226.7" height="52.2" rx="4"/><text class="t" x="2292.8" y="1312"><tspan x="2292.8">"三条思路"为一，要善于揣摩命题思路，考试</tspan><tspan x="2292.8" dy="13.9">时，学生能正确地揣摩出命题人的意图，就不</tspan><tspan x="2292.8" dy="13.9">会钻牛角尖，正确把握答题方向;</tspan></text></g>
<g id="n2_L1d3"><rect x="2287.3" y="1371" width="226.7" height="93.9" rx="4"/><text class="t" x="2292.8" y="1387"><tspan x="2292.8">二，要努力掌握答题思路。讲评时，让学生明</tspan><tspan x="2292.8" dy="13.9">白答题的基本思路，使学生逐步掌握答题的基</tspan><tspan x="2292.8" dy="13.9">本方法和技巧，同时，也要杜绝学生在答题时</tspan><tspan x="2292.8" dy="13.9">可能出现的错误思路，一旦出现问题，及时帮</tspan><tspan x="2292.8" dy="13.9">助学生分析产生错误的原因，并从中吸取教训</tspan><tspan x="2292.8" dy="13.9">;</tspan></text></g>
<g id="n2_L1d4"><rect x="2287.3" y="1489" width="226.7" height="107.8" rx="4"/><text class="t" x="2292.8" y="1505"><tspan x="2292.8">三，要善于拓宽知识的思路。为了让学生全面</tspan><tspan x="2292.8" dy="13.9">地、系统地掌握每道题的相关内容，讲评时，</tspan><tspan x="2292.8" dy="13.9">教师可以以这些题为题根，从试题的深度和广</tspan><tspan x="2292.8" dy="13.9">度加以引申，加强知识的纵横联系，归纳总结</tspan><tspan x="2292.8" dy="13.9">，加大知识的摄入量。当然，每次检后及时讲</tspan><tspan x="2292.8" dy="13.9">评是很重要的，时间长了，学生关心疑惑问题</tspan><tspan x="2292.8" dy="13.9">的程度就会减弱。</tspan></text></g>
<g id="n2_L2"><rect x="1803.6" y="1833.7" width="97.4" height="25" rx="4"/><text class="t" x="1809.1" y="1850.2">二、具体教学措施</text></g>
<g id="n2_L2a"><rect x="1920.6" y="1620.4" width="226.7" height="80" rx="4"/><text class="t" x="1926.1" y="1636.4"><tspan x="1926.1">课堂上坚持精讲多练，做到举一反三、触类旁</tspan><tspan x="1926.1" dy="13.9">通。以学生为主体的教学原则。复习课上注意</tspan><tspan x="1926.1" dy="13.9">加强学生的操练活动，让学生多动脑筋思考问</tspan><tspan x="1926.1" dy="13.9">题，让他们尽可能多地举些例句，使他们能训</tspan><tspan x="1926.1" dy="13.9">练掌握语法的用法。</tspan></text></g>
<g id="n2_L2b"><rect x="1920.6" y="1724" width="226.7" height="80" rx="4"/><text class="t" x="1926.1" y="1740"><tspan x="1926.1">(一)坚持抓好阅读理解。阅读理解是高考的重</tspan><tspan x="1926.1" dy="13.9">头戏，占的比重最大。因此，在平时的教学活</tspan><tspan x="1926.1" dy="13.9">动当中我注重抓好这一环节，让学生每天都做</tspan><tspan x="1926.1" dy="13.9">两篇左右的阅读理解文章，提高阅读理解能力</tspan><tspan x="1926.1" dy="13.9">。</tspan></text></g>
<g id="n2_L2c"><rect x="1920.6" y="1827.6" width="226.7" height="52.2" rx="4"/><text class="t" x="1926.1" y="1843.6"><tspan x="1926.1">(二)抓好书面表达。平时针对近年高考常见的</tspan><tspan x="1926.1" dy="13.9">书面表达题型进行训练，并让学生利用早读时</tspan><tspan x="1926.1" dy="13.9">间背诵范文，熟悉常见的表达方式。</tspan></text></g>
<g id="n2_L2d"><rect x="1920.6" y="1903.6" width="226.7" height="38.3" rx="4"/><text class="t" x="1926.1" y="1919.6"><tspan x="1926.1">(三)听力常抓不懈。让学生每天训练英语听力</tspan><tspan x="1926.1" dy="13.9">。让学生适应高考的要求。</tspan></text></g>
<g id="n2_L2e"><rect x="1920.6" y="1964.8" width="226.7" height="135.6" rx="4"/><text class="t" x="1926.1" y="1980.8"><tspan x="1926.1">(四)抓好测试、评价、反思及鼓励工作。除了</tspan><tspan x="1926.1" dy="13.9">每个月的月考，每周还进行一次周练，以此来</tspan><tspan x="1926.1" dy="13.9">检查复习效果。根据每次考试所反映出的问题</tspan><tspan x="1926.1" dy="13.9">进行适时的调整及改进，并及时找相关的同学</tspan><tspan x="1926.1" dy="13.9">进行谈心，与他们了解复习过程中的感受，分</tspan><tspan x="1926.1" dy="13.9">析他们在学习中存在的问题，一起探讨解决的</tspan><tspan x="1926.1" dy="13.9">办法。从而使学生在学习上更具有针对性，感</tspan><tspan x="1926.1" dy="13.9">受到老师对自己的关爱，以更足的信心投入到</tspan><tspan x="1926.1" dy="13.9">学习当中。</tspan></text></g>
<g id="n2_L3"><rect x="1803.6" y="2245.4" width="129.8" height="23.5" rx="4"/><text class="t" x="1809.1" y="2261.2">三、高三教学的一些反思</text></g>
<g id="n2_L3a"><rect x="1953.7" y="2124" width="226.7" height="80" rx="4"/><text class="t" x="1959.2" y="2140"><tspan x="1959.2">(一)高考试题选材求新、求异的特点和向语段</tspan><tspan x="1959.2" dy="13.9">、语篇的理解与运用能力的考查侧重，这就要</tspan><tspan x="1959.2" dy="13.9">求我们教师自身在注重本学科基础知识的系统</tspan><tspan x="1959.2" dy="13.9">性的同时，还要注意跨学科知识渗透能力和基</tspan><tspan x="1959.2" dy="13.9">本技能的培养。</tspan></text></g>
<g id="n2_L3b"><rect x="1953.7" y="2227.6" width="226.7" height="66.1" rx="4"/><text class="t" x="1959.2" y="2243.6"><tspan x="1959.2">(二)要真正吃透高考考纲和高考对高三学生的</tspan><tspan x="1959.2" dy="13.9">能力考查要求，在复习教学过程中，一定要做</tspan><tspan x="1959.2" dy="13.9">到去粗取精，不要花费太多宝贵的课堂教学时</tspan><tspan x="1959.2" dy="13.9">间去讲解收效慢的知识内容。</tspan></text></g>
<g id="n2_L3c"><rect x="1953.7" y="2316.8" width="226.7" height="66.1" rx="4"/><text class="t" x="1959.2" y="2332.8"><tspan x="1959.2">(三)高考英语的总趋势要求高中教师要不断充</tspan><tspan x="1959.2" dy="13.9">电，迅速提升自身综合素质。同时要研究如何</tspan><tspan x="1959.2" dy="13.9">帮助学生形成适合自己学习需要的英语学习策</tspan><tspan x="1959.2" dy="13.9">略，这对于高三备考的学生有很大的帮助。</tspan></text></g>
<g id="n2_L3c1"><rect x="2200" y="2331" width="226.7" height="38.3" rx="4"/><text class="t" x="2205.5" y="2347"><tspan x="2205.5">总之，在这一年里，我收获颇丰，和学生共同</tspan><tspan x="2205.5" dy="13.9">成长和进步，我会继续努力。</tspan></text></g>
</g>

<!-- branch 3 nodes -->
<g class="b3">
<g id="n3_0"><rect x="787.9" y="1715.5" width="226.7" height="66.1" rx="4"/><text class="t" x="793.4" y="1731.5"><tspan x="793.4">高三这一年，是充满了挑战和艰辛的一年。作</tspan><tspan x="793.4" dy="13.9">为一名高三的英语教师，认真踏实地做好本职</tspan><tspan x="793.4" dy="13.9">工作，把大部份的时间用来学习、研究高考题</tspan><tspan x="793.4" dy="13.9">和高考备考。此刻把所做的工作总结如下:</tspan></text></g>
<g id="n3_L1"><rect x="551" y="1290.2" width="216.4" height="24.5" rx="4"/><text class="t" x="556.5" y="1306.6">一、加强研究，提高复习备考工作的针对性</text></g>
<g id="n3_L1a"><rect x="304.4" y="1249" width="226.7" height="107.8" rx="4"/><text class="t" x="309.9" y="1265"><tspan x="309.9">认真学习并分析了高考题的类型，总结规律寻</tspan><tspan x="309.9" dy="13.9">找突破口。从历年高考试题的整体研究中找共</tspan><tspan x="309.9" dy="13.9">性，开拓性地抓复习备考。在常规教学及复习</tspan><tspan x="309.9" dy="13.9">备考中，始终抓住加大阅读量，开展泛读教学</tspan><tspan x="309.9" dy="13.9">，加强阅读技巧的指导，构成有效的阅读策略</tspan><tspan x="309.9" dy="13.9">，从根本上培养考生的良好的阅读习惯和逻辑</tspan><tspan x="309.9" dy="13.9">思维本事。</tspan></text></g>
<g id="n3_L2"><rect x="583.5" y="1611.4" width="183.9" height="24.6" rx="4"/><text class="t" x="589" y="1627.8">二、制定计划，加强复习的目标性。</text></g>
<g id="n3_L2a"><rect x="336.5" y="1380" width="226.7" height="38.3" rx="4"/><text class="t" x="342" y="1396"><tspan x="342">根据学生的具体情景，制定出切实可行的复习</tspan><tspan x="342" dy="13.9">计划，把复习分为三个阶段。</tspan></text></g>
<g id="n3_L2b"><rect x="427.5" y="1498" width="135.7" height="23.6" rx="4"/><text class="t" x="433" y="1514">1、夯实基础，发展本事。</text></g>
<g id="n3_L2b1"><rect x="180.4" y="1441.2" width="226.7" height="135.6" rx="4"/><text class="t" x="185.9" y="1457.2"><tspan x="185.9">近年来高考英语逐渐侧重于语言本事的考查，</tspan><tspan x="185.9" dy="13.9">对语言知识的直接考查相对地减少了。所以，</tspan><tspan x="185.9" dy="13.9">在复习过程中，首先组织学生巩固各项基础知</tspan><tspan x="185.9" dy="13.9">识，同时经过不断的语言练习，掌握必须的技</tspan><tspan x="185.9" dy="13.9">巧。在此基础上，再经过科学系统的训练，发</tspan><tspan x="185.9" dy="13.9">展本事，收到了事半功倍的效果。要求学生在</tspan><tspan x="185.9" dy="13.9">上个学期第一轮复习的基础之上，进一步熟悉</tspan><tspan x="185.9" dy="13.9">巩固所学过的词组、句型和短语，为书面表达</tspan><tspan x="185.9" dy="13.9">和阅读理解打下良好的基础。</tspan></text></g>
<g id="n3_L2c"><rect x="405.9" y="1677.6" width="157.3" height="23.6" rx="4"/><text class="t" x="411.4" y="1693.6">2、强化专题训练，回归基础。</text></g>
<g id="n3_L2c1"><rect x="159" y="1600.4" width="226.7" height="177.3" rx="4"/><text class="t" x="164.5" y="1616.4"><tspan x="164.5">前半个学期，主要进行专题训练。针对高考的</tspan><tspan x="164.5" dy="13.9">主要题型分别进行解题方法和技巧的指导。后</tspan><tspan x="164.5" dy="13.9">半学期则主要进行模拟套题的训练，训练学生</tspan><tspan x="164.5" dy="13.9">的答题方法、技巧和解题的速度。承受着高考</tspan><tspan x="164.5" dy="13.9">临近，我根据学生的具体情景把握中档、低档</tspan><tspan x="164.5" dy="13.9">题，这对学生取得高分是十分有利的。学生普</tspan><tspan x="164.5" dy="13.9">遍都有这样的感觉：很多题目"一看就会，一</tspan><tspan x="164.5" dy="13.9">做就错"。造成这种现象的根本原因在于对基</tspan><tspan x="164.5" dy="13.9">础知识的掌握不牢固。所以，我让学生把复习</tspan><tspan x="164.5" dy="13.9">的重点要放在查漏补缺上。将做过的试卷整理</tspan><tspan x="164.5" dy="13.9">后，建立错题档案，弥补知识漏洞，进行强化</tspan><tspan x="164.5" dy="13.9">记忆和训练。</tspan></text></g>
<g id="n3_L2d"><rect x="362.7" y="1836.7" width="200.5" height="23.7" rx="4"/><text class="t" x="368.2" y="1852.8">3、整理基础知识，适当做一些高考题。</text></g>
<g id="n3_L2d1"><rect x="116" y="1802" width="226.7" height="93.9" rx="4"/><text class="t" x="121.5" y="1818"><tspan x="121.5">要在高考前夕找到良好的语言知识感觉和运用</tspan><tspan x="121.5" dy="13.9">感觉就必须回归基础，整理巩固基础知识，以</tspan><tspan x="121.5" dy="13.9">最充实、最满意的感觉来增强自我的自信。同</tspan><tspan x="121.5" dy="13.9">时，利用这段时间试着做近几年的高考题，学</tspan><tspan x="121.5" dy="13.9">生会找出每道题的切入点，从中总结命题规律</tspan><tspan x="121.5" dy="13.9">、利益和命题手法。</tspan></text></g>
<g id="n3_L3"><rect x="540" y="2181.3" width="226.9" height="24.1" rx="4"/><text class="t" x="545.5" y="2197.5">三、狠抓教学环节，优化课堂教学促进备考。</text></g>
<g id="n3_L3a"><rect x="293.5" y="1918.4" width="226.7" height="121.7" rx="4"/><text class="t" x="299" y="1934.4"><tspan x="299">注意复习课的针对性。我们把复习重点放在学</tspan><tspan x="299" dy="13.9">生的难点、弱点上以及常易出错或失误的资料</tspan><tspan x="299" dy="13.9">方面上，努力做到有的放矢。课堂上坚持精讲</tspan><tspan x="299" dy="13.9">多练，做到举一反三、触类旁通。以学生为主</tspan><tspan x="299" dy="13.9">体的教学原则。复习课上我们注意加强学生的</tspan><tspan x="299" dy="13.9">操练活动，让学生多动脑筋思考问题，让他们</tspan><tspan x="299" dy="13.9">尽可能多地举些例句，使他们能训练掌握语法</tspan><tspan x="299" dy="13.9">的用法。</tspan></text></g>
<g id="n3_L3b"><rect x="293.5" y="2063.9" width="226.7" height="66.1" rx="4"/><text class="t" x="299" y="2079.9"><tspan x="299">(1)坚持抓好阅读理解。阅读理解是高考的重</tspan><tspan x="299" dy="13.9">头戏，占的比重。所以，在平时的教学活动当</tspan><tspan x="299" dy="13.9">中我注重抓好这一环节，让学生每一天都做两</tspan><tspan x="299" dy="13.9">篇左右的阅读理解文章，提高阅读理解本事。</tspan></text></g>
<g id="n3_L3c"><rect x="293.5" y="2152.8" width="226.7" height="52.2" rx="4"/><text class="t" x="299" y="2168.8"><tspan x="299">(2)抓好书面表达。平时针对近年高考常见的</tspan><tspan x="299" dy="13.9">书面表达题型进行训练，并让学生利用早晚读</tspan><tspan x="299" dy="13.9">节时间背诵范文，熟悉常见的表达方式。</tspan></text></g>
<g id="n3_L3d"><rect x="293.5" y="2228.8" width="226.7" height="80" rx="4"/><text class="t" x="299" y="2244.8"><tspan x="299">(3)听力常抓不懈。三、四、五这几个月份，</tspan><tspan x="299" dy="13.9">让学生利用每一天七点半的时间播放英语听力</tspan><tspan x="299" dy="13.9">材料。进入六月份后，则按照高考要求改在午</tspan><tspan x="299" dy="13.9">时三点进行播放，让学生适应高考的要求和气</tspan><tspan x="299" dy="13.9">氛。</tspan></text></g>
<g id="n3_L3e"><rect x="293.5" y="2339.5" width="226.7" height="135.6" rx="4"/><text class="t" x="299" y="2355.5"><tspan x="299">(4)抓好测试、评价、反思及鼓动工作。除了</tspan><tspan x="299" dy="13.9">每个月的月考，每周还进行一次的测验，以此</tspan><tspan x="299" dy="13.9">来检查复习效果。根据每次考试所反映出的问</tspan><tspan x="299" dy="13.9">题进行适时的调整及改善，并及时找相关的同</tspan><tspan x="299" dy="13.9">学进行谈心，与他们了解复习过程中的感受，</tspan><tspan x="299" dy="13.9">分析他们在学习中存在的问题，一齐探讨解决</tspan><tspan x="299" dy="13.9">的办法。从而使学生在学习上更具有针对性，</tspan><tspan x="299" dy="13.9">感受到教师对自我的关爱，以更足的信心投入</tspan><tspan x="299" dy="13.9">到学习当中。</tspan></text></g>
<g id="n3_L3e1"><rect x="46.1" y="2332.7" width="226.7" height="66.1" rx="4"/><text class="t" x="51.6" y="2348.7"><tspan x="51.6">放性试题，改变了以往拘泥于提纲写作的形式</tspan><tspan x="51.6" dy="13.9">，不仅仅给考生供给了更为宽广的思维空间，</tspan><tspan x="51.6" dy="13.9">也有利于考生对已掌握语言的发挥，对中学英</tspan><tspan x="51.6" dy="13.9">语教学有进取的指导意义。</tspan></text></g>
<g id="n3_L3e2"><rect x="46.1" y="2422.5" width="226.7" height="52.2" rx="4"/><text class="t" x="51.6" y="2438.5"><tspan x="51.6">经过高三这一年地努力，自我的教学本事和自</tspan><tspan x="51.6" dy="13.9">身的综合素质得到了进一步的提升，取得了显</tspan><tspan x="51.6" dy="13.9">著的教学成果。</tspan></text></g>
</g>

<!-- branch 4 nodes -->
<g class="b4">
<g id="n4_0"><rect x="1803.6" y="2406.6" width="226.7" height="52.2" rx="4"/><text class="t" x="1809.1" y="2422.6"><tspan x="1809.1">回顾这一年，既忙碌，又充实，也有许多值得</tspan><tspan x="1809.1" dy="13.9">总结和反思的地方;现将这一年的高三英语教</tspan><tspan x="1809.1" dy="13.9">学工作做一个小结，借以促进和提高。</tspan></text></g>
<g id="n4_1"><rect x="1803.6" y="2481.6" width="226.7" height="191.2" rx="4"/><text class="t" x="1809.1" y="2497.6"><tspan x="1809.1">一、认真学习。从得知我要上高三的那天起，</tspan><tspan x="1809.1" dy="13.9">我便开始学习最近5年高考的《考试说明》，</tspan><tspan x="1809.1" dy="13.9">作为借鉴，并开始作第一轮复习资料中的题目</tspan><tspan x="1809.1" dy="13.9">，为开学做好充分的准备;与此同时我还买了</tspan><tspan x="1809.1" dy="13.9">一些高考英语课外辅导练习，我把这些书中的</tspan><tspan x="1809.1" dy="13.9">题目从头到尾自己亲自做了一遍，以弥补自己</tspan><tspan x="1809.1" dy="13.9">有些方面的不足，再仔细研究这些题目，把具</tspan><tspan x="1809.1" dy="13.9">有典型性的题目，易错，易混淆的题目打印出</tspan><tspan x="1809.1" dy="13.9">来开学后在课堂上给学生做，并给予一定的分</tspan><tspan x="1809.1" dy="13.9">析;此举受到了学生的一致好评。我一直都牢</tspan><tspan x="1809.1" dy="13.9">记这样一句名言：作为老师，要想给学生一杯</tspan><tspan x="1809.1" dy="13.9">水，自己至少要有一桶水。这促使我不断的学</tspan><tspan x="1809.1" dy="13.9">习，研究和探索。</tspan></text></g>
<g id="n4_2"><rect x="1803.6" y="2696.3" width="226.7" height="163.4" rx="4"/><text class="t" x="1809.1" y="2712.3"><tspan x="1809.1">二、认真备好每一节课。我深入钻研教材，多</tspan><tspan x="1809.1" dy="13.9">方查阅参考资料，把手头的教材当成宝，吃透</tspan><tspan x="1809.1" dy="13.9">，并认真消化。同时把以前学过的相关的知识</tspan><tspan x="1809.1" dy="13.9">点和新的知识点串联起来，而且不时地与老教</tspan><tspan x="1809.1" dy="13.9">师进行相关的探讨，一方面以弥补自己教学经</tspan><tspan x="1809.1" dy="13.9">验不足的缺陷;另一方面让学生感受到新世纪</tspan><tspan x="1809.1" dy="13.9">教材的教授既能让他们学到新知识也能让他们</tspan><tspan x="1809.1" dy="13.9">对某些学过的知识得以巩固。我深知立足教材</tspan><tspan x="1809.1" dy="13.9">，夯实基础知识才是我们这样的学生的唯一途</tspan><tspan x="1809.1" dy="13.9">径。教学和复习都因该注重实效，实实在在地</tspan><tspan x="1809.1" dy="13.9">为学生服务。</tspan></text></g>
<g id="n4_3"><rect x="1803.6" y="2883.9" width="226.7" height="93.9" rx="4"/><text class="t" x="1809.1" y="2899.9"><tspan x="1809.1">三、努力上好每一堂课。我深知学生学习重在</tspan><tspan x="1809.1" dy="13.9">课堂，努力向40分钟要效益，根据实际情况</tspan><tspan x="1809.1" dy="13.9">，充分调动学生的积极性。在教学过程中我本</tspan><tspan x="1809.1" dy="13.9">着"培养主体意识，强化课堂训练"的原则，积</tspan><tspan x="1809.1" dy="13.9">极做好学生的思想工作，提高学习的自觉性、</tspan><tspan x="1809.1" dy="13.9">积极性和主动性;帮学生树立信心。</tspan></text></g>
<g id="n4_4"><rect x="1803.6" y="3001.5" width="226.7" height="135.6" rx="4"/><text class="t" x="1809.1" y="3017.5"><tspan x="1809.1">四、认真批改作业，并及时给学生反馈作业情</tspan><tspan x="1809.1" dy="13.9">况，对作业中出现的错误进行课堂集体订正并</tspan><tspan x="1809.1" dy="13.9">举一反三，效果不错，大大降低了以后犯同类</tspan><tspan x="1809.1" dy="13.9">错误的机率。课后及时与学生进行交流，了解</tspan><tspan x="1809.1" dy="13.9">学生的学习状况，时刻关注学生思想动态。根</tspan><tspan x="1809.1" dy="13.9">据高三学生思想状况复杂、压力大等状况，我</tspan><tspan x="1809.1" dy="13.9">努力创造机会，多和学生一起交流，帮他们排</tspan><tspan x="1809.1" dy="13.9">忧解难，使他们时刻都能保持较好的学习状态</tspan><tspan x="1809.1" dy="13.9">。</tspan></text></g>
<g id="n4_5"><rect x="1803.6" y="3180.8" width="226.7" height="66.1" rx="4"/><text class="t" x="1809.1" y="3196.8"><tspan x="1809.1">五、在高三进行的各次月考，联考，模拟考中</tspan><tspan x="1809.1" dy="13.9">，我都给学生进行详细的分析，分析错误，分</tspan><tspan x="1809.1" dy="13.9">析成绩，分析考试策略，分析解题技巧，使得</tspan><tspan x="1809.1" dy="13.9">她们都能_越勇。</tspan></text></g>
<g id="n4_5a"><rect x="2050.4" y="3159.7" width="226.7" height="107.8" rx="4"/><text class="t" x="2055.9" y="3175.7"><tspan x="2055.9">在紧张有序的工作中，我也发现自身存在的许</tspan><tspan x="2055.9" dy="13.9">多问题和不足，我知道高考英语的总趋势要求</tspan><tspan x="2055.9" dy="13.9">教师不断充电，迅速提升自身综合素质。所以</tspan><tspan x="2055.9" dy="13.9">在以后的工作中我将继续努力，争取处理好各</tspan><tspan x="2055.9" dy="13.9">种关系，全面发展。高三这一年虽然辛苦，但</tspan><tspan x="2055.9" dy="13.9">收获颇丰，反思也是多多，这一年的历练为我</tspan><tspan x="2055.9" dy="13.9">今后的英语教学铺路。</tspan></text></g>
</g>

<!-- branch 5 nodes -->
<g class="b5">
<g id="n5_0"><rect x="787.9" y="2498.3" width="226.7" height="66.1" rx="4"/><text class="t" x="793.4" y="2514.3"><tspan x="793.4">一年一度的高考已经落幕，回顾高三这一年的</tspan><tspan x="793.4" dy="13.9">工作，对于初次带高三的我来说感觉既辛苦又</tspan><tspan x="793.4" dy="13.9">充实。为了今后更好地工作，吸取更多的经验</tspan><tspan x="793.4" dy="13.9">，现将这一年的工作情况总结如下。</tspan></text></g>
<g id="n5_1"><rect x="787.9" y="2587.3" width="226.7" height="107.8" rx="4"/><text class="t" x="793.4" y="2603.3"><tspan x="793.4">一学年来，我们高三英语全体老师能够认真备</tspan><tspan x="793.4" dy="13.9">课、上课、听课、评课，及时批改作业、讲评</tspan><tspan x="793.4" dy="13.9">作业，做好课后辅导工作，广泛涉猎各种知识</tspan><tspan x="793.4" dy="13.9">，形成比较完整的知识结构，严格要求学生，</tspan><tspan x="793.4" dy="13.9">尊重学生，发扬教学民主，使学生学有所得，</tspan><tspan x="793.4" dy="13.9">不断提高，从而不断提高自己的教学水平和思</tspan><tspan x="793.4" dy="13.9">想觉悟，并顺利完成教育教学任务。</tspan></text></g>
<g id="n5_L1"><rect x="787.9" y="2847.3" width="226.7" height="38.3" rx="4"/><text class="t" x="793.4" y="2863.3"><tspan x="793.4">1、要提高教学质量，关键是上好课。为了上</tspan><tspan x="793.4" dy="13.9">好课，我做了下面的工作:</tspan></text></g>
<g id="n5_L1a"><rect x="540.6" y="2719" width="226.7" height="80" rx="4"/><text class="t" x="546.1" y="2735"><tspan x="546.1">①认真钻研教材，对教材的基本思想、基本概</tspan><tspan x="546.1" dy="13.9">念，每句话、每个单词都弄清楚，了解教材的</tspan><tspan x="546.1" dy="13.9">结构，重点与难点，掌握知识的逻辑，能运用</tspan><tspan x="546.1" dy="13.9">自如，知道应补充哪些资料，怎样才能教好英</tspan><tspan x="546.1" dy="13.9">语。</tspan></text></g>
<g id="n5_L1b"><rect x="540.6" y="2822.7" width="226.7" height="52.2" rx="4"/><text class="t" x="546.1" y="2838.7"><tspan x="546.1">②了解学生原有的英语基础水平，他们的兴趣</tspan><tspan x="546.1" dy="13.9">、需要、方法、习惯，学习新知识可能会有哪</tspan><tspan x="546.1" dy="13.9">些困难，采取相应的预防措施。</tspan></text></g>
<g id="n5_L1c"><rect x="540.6" y="2898.3" width="226.7" height="149.5" rx="4"/><text class="t" x="546.1" y="2914.3"><tspan x="546.1">③考虑教法，解决如何把已掌握的英语知识传</tspan><tspan x="546.1" dy="13.9">授给学生，包括如何组织教材、如何安排每节</tspan><tspan x="546.1" dy="13.9">课的活动。组织好课堂教学，关注全体学生，</tspan><tspan x="546.1" dy="13.9">注意信息反馈，调动学生的有意注意，使其保</tspan><tspan x="546.1" dy="13.9">持相对稳定性，同时，激发学生的情感，使他</tspan><tspan x="546.1" dy="13.9">们产生愉悦的心境，创造良好的课堂气氛，课</tspan><tspan x="546.1" dy="13.9">堂语言简洁明了，克服了以前重复的毛病，课</tspan><tspan x="546.1" dy="13.9">堂提问面向全体学生，注意引发学生学英语的</tspan><tspan x="546.1" dy="13.9">兴趣，课堂上讲练结合，布置好课后作业，作</tspan><tspan x="546.1" dy="13.9">业少而精，减轻学生的负担。</tspan></text></g>
<g id="n5_L2"><rect x="787.9" y="3140.7" width="226.7" height="38.3" rx="4"/><text class="t" x="793.4" y="3156.7"><tspan x="793.4">2、要提高教学质量，还要做好课后辅导工作</tspan><tspan x="793.4" dy="13.9">。</tspan></text></g>
<g id="n5_L2a"><rect x="540.6" y="3071.7" width="226.7" height="177.3" rx="4"/><text class="t" x="546.1" y="3087.7"><tspan x="546.1">有些学生爱动、好玩，缺乏自控能力，常在学</tspan><tspan x="546.1" dy="13.9">习上不能按时完成作业，有的学生抄袭作业，</tspan><tspan x="546.1" dy="13.9">针对这种问题，就要抓好学生的思想教育，并</tspan><tspan x="546.1" dy="13.9">使这一工作惯彻到对学生的学习指导中去，还</tspan><tspan x="546.1" dy="13.9">要做好对学生学习的辅导和帮助工作，尤其在</tspan><tspan x="546.1" dy="13.9">后进生的转化上，对后进生努力做到从赞美着</tspan><tspan x="546.1" dy="13.9">手，所有的人都渴望得到别人的理解和尊重，</tspan><tspan x="546.1" dy="13.9">所以，和差生交谈时，对他的处境、想法表示</tspan><tspan x="546.1" dy="13.9">深刻的理解和尊重，还有在批评学生之前，先</tspan><tspan x="546.1" dy="13.9">谈谈自己工作的不足。同时，积极参与听课、</tspan><tspan x="546.1" dy="13.9">评课，虚心向同行学习教学方法博采众长，提</tspan><tspan x="546.1" dy="13.9">高教学水平。</tspan></text></g>
<g id="n5_L3"><rect x="787.9" y="3306.7" width="226.7" height="38.3" rx="4"/><text class="t" x="793.4" y="3322.7"><tspan x="793.4">3、培养多种兴趣爱好，博览群书，不断扩宽</tspan><tspan x="793.4" dy="13.9">知识面，为教学内容注入新鲜血液。</tspan></text></g>
<g id="n5_L3a"><rect x="540.6" y="3271.7" width="226.7" height="107.8" rx="4"/><text class="t" x="546.1" y="3287.7"><tspan x="546.1">金无足赤，人无完人，在教学工作中难免有缺</tspan><tspan x="546.1" dy="13.9">陷，例如，课堂语言平缓，平时考试较少，语</tspan><tspan x="546.1" dy="13.9">言不够生动。走进21世纪，社会对教师的素</tspan><tspan x="546.1" dy="13.9">质要求更高，在今后的教育教学工作中，我们</tspan><tspan x="546.1" dy="13.9">将更严格要求自己，努力工作，发扬优点，改</tspan><tspan x="546.1" dy="13.9">正缺点，开拓前进，为美好的明天奉献自己的</tspan><tspan x="546.1" dy="13.9">力量。</tspan></text></g>
</g>

<!-- branch 6 nodes -->
<g class="b6">
<g id="n6_0"><rect x="1858.8" y="3291.3" width="172.2" height="24.5" rx="4"/><text class="t" x="1864" y="3307.6">★ 2021教师英语教学工作总结7篇</text></g>
<g id="n6_1"><rect x="1858.8" y="3339.1" width="172.2" height="24.5" rx="4"/><text class="t" x="1864" y="3355.4">★ 2021英语教学工作总结报告7篇</text></g>
<g id="n6_2"><rect x="1858.8" y="3386.9" width="172.2" height="24.5" rx="4"/><text class="t" x="1864" y="3403.2">★ 2021英语教学教师工作总结7篇</text></g>
<g id="n6_3"><rect x="1858.8" y="3434.7" width="194" height="24.5" rx="4"/><text class="t" x="1864" y="3451">★ 2021英语课程教学年度任务总结7篇</text></g>
<g id="n6_4"><rect x="1858.8" y="3482.5" width="172.2" height="24.5" rx="4"/><text class="t" x="1864" y="3498.8">★ 2021英语教学工作个人总结7篇</text></g>
<g id="n6_5"><rect x="1858.8" y="3530.3" width="176.5" height="24.5" rx="4"/><text class="t" x="1864" y="3546.6">★ 2021英语教师教学工作总结范文</text></g>
<g id="n6_6"><rect x="1858.8" y="3578.1" width="155.2" height="24.5" rx="4"/><text class="t" x="1864" y="3594.4">★ 2021英语年末教学工作总结</text></g>
<g id="n6_7"><rect x="1858.8" y="3625.9" width="176.5" height="24.5" rx="4"/><text class="t" x="1864" y="3642.2">★ 2021英语老师教学工作总结范文</text></g>
<g id="n6_8"><rect x="1858.8" y="3673.7" width="155.2" height="24.5" rx="4"/><text class="t" x="1864" y="3690">★ 英语教学工作课堂总结2021</text></g>
<g id="n6_9"><rect x="1858.8" y="3721.5" width="183.2" height="24.5" rx="4"/><text class="t" x="1864" y="3737.8">★ 2021八年级英语教学工作总结5篇</text></g>
</g>
</svg>
